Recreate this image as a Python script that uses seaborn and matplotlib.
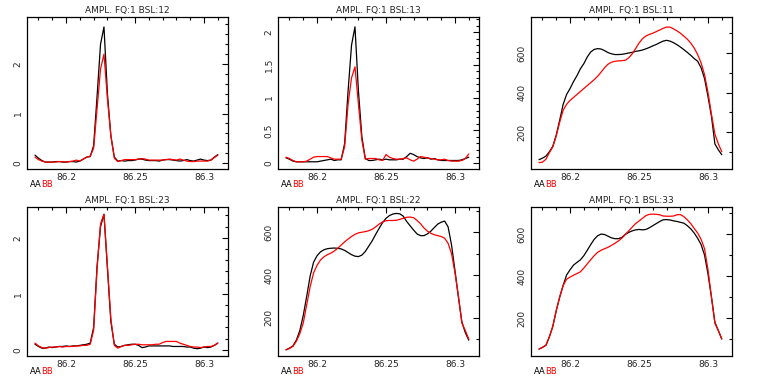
import numpy as np
import pandas as pd
import seaborn as sns
import matplotlib.pyplot as plt
from matplotlib.ticker import MultipleLocator, FuncFormatter

# frequency channels (GHz)
freq = np.round(86.1775 + 0.0025 * np.arange(54), 4)

titles = ["AMPL. FQ:1 BSL:12", "AMPL. FQ:1 BSL:13", "AMPL. FQ:1 BSL:11",
          "AMPL. FQ:1 BSL:23", "AMPL. FQ:1 BSL:22", "AMPL. FQ:1 BSL:33"]

# AA = black, BB = red
aa_12 = [0.16, 0.10, 0.05, 0.02, 0.02, 0.02, 0.03, 0.03, 0.02, 0.02, 0.03, 0.03, 0.02, 0.04,
         0.08, 0.12, 0.13, 0.35, 1.35, 2.4, 2.75, 1.4, 0.55, 0.12, 0.04, 0.05, 0.04, 0.05,
         0.05, 0.06, 0.08, 0.08, 0.06, 0.05, 0.05, 0.05, 0.04, 0.06, 0.07, 0.07, 0.06, 0.05,
         0.04, 0.05, 0.07, 0.05, 0.04, 0.06, 0.08, 0.06, 0.05, 0.06, 0.12, 0.17]
bb_12 = [0.12, 0.07, 0.04, 0.02, 0.02, 0.02, 0.02, 0.03, 0.03, 0.02, 0.03, 0.04, 0.06, 0.04,
         0.08, 0.12, 0.14, 0.30, 1.1, 1.9, 2.2, 1.3, 0.55, 0.10, 0.03, 0.05, 0.07, 0.07,
         0.07, 0.07, 0.08, 0.09, 0.08, 0.06, 0.06, 0.06, 0.06, 0.06, 0.07, 0.08, 0.07, 0.06,
         0.08, 0.06, 0.04, 0.03, 0.03, 0.04, 0.04, 0.04, 0.04, 0.06, 0.11, 0.16]

aa_13 = [0.08, 0.06, 0.03, 0.02, 0.02, 0.02, 0.02, 0.02, 0.02, 0.02, 0.03, 0.04, 0.05, 0.06,
         0.04, 0.05, 0.05, 0.30, 1.1, 1.8, 2.08, 1.1, 0.40, 0.07, 0.04, 0.04, 0.05, 0.06,
         0.05, 0.06, 0.05, 0.05, 0.05, 0.06, 0.06, 0.10, 0.15, 0.13, 0.10, 0.08, 0.07, 0.08,
         0.06, 0.07, 0.05, 0.04, 0.04, 0.04, 0.04, 0.04, 0.04, 0.05, 0.07, 0.09]
bb_13 = [0.09, 0.07, 0.04, 0.02, 0.02, 0.02, 0.03, 0.06, 0.09, 0.10, 0.10, 0.10, 0.10, 0.08,
         0.06, 0.06, 0.06, 0.25, 0.9, 1.3, 1.47, 0.9, 0.35, 0.06, 0.07, 0.07, 0.07, 0.05,
         0.04, 0.13, 0.09, 0.07, 0.06, 0.06, 0.07, 0.08, 0.05, 0.03, 0.06, 0.10, 0.09, 0.08,
         0.07, 0.06, 0.05, 0.05, 0.06, 0.04, 0.03, 0.03, 0.03, 0.04, 0.07, 0.14]

aa_11 = [60, 68, 78, 100, 128, 185, 260, 340, 390, 420, 455, 485, 520, 546, 580, 605, 618, 622,
         620, 612, 602, 596, 592, 592, 593, 596, 600, 603, 608, 611, 615, 621, 628, 636, 643,
         652, 660, 664, 660, 652, 642, 630, 617, 603, 588, 572, 558, 525, 470, 380, 280, 140,
         110, 85]
bb_11 = [45, 48, 62, 95, 125, 180, 250, 310, 340, 360, 375, 390, 405, 420, 435, 450, 465, 482,
         503, 525, 543, 553, 558, 560, 561, 563, 575, 595, 622, 650, 672, 686, 694, 700, 708,
         716, 725, 731, 731, 722, 712, 700, 685, 670, 650, 625, 592, 550, 490, 400, 290, 190,
         140, 100]

aa_23 = [0.10, 0.06, 0.03, 0.03, 0.05, 0.04, 0.05, 0.06, 0.06, 0.07, 0.06, 0.07, 0.07, 0.08,
         0.09, 0.10, 0.12, 0.40, 1.5, 2.2, 2.42, 1.45, 0.50, 0.10, 0.05, 0.06, 0.08, 0.09,
         0.10, 0.10, 0.08, 0.04, 0.05, 0.07, 0.07, 0.07, 0.07, 0.07, 0.07, 0.07, 0.06, 0.06,
         0.06, 0.06, 0.05, 0.05, 0.03, 0.02, 0.03, 0.05, 0.04, 0.05, 0.08, 0.12]
bb_23 = [0.12, 0.07, 0.04, 0.03, 0.04, 0.05, 0.05, 0.06, 0.05, 0.06, 0.06, 0.06, 0.07, 0.07,
         0.08, 0.08, 0.10, 0.35, 1.45, 2.25, 2.42, 1.5, 0.55, 0.08, 0.03, 0.06, 0.08, 0.08,
         0.09, 0.10, 0.10, 0.09, 0.09, 0.09, 0.09, 0.10, 0.10, 0.13, 0.15, 0.15, 0.15, 0.15,
         0.12, 0.10, 0.08, 0.06, 0.05, 0.05, 0.04, 0.05, 0.06, 0.06, 0.08, 0.12]

aa_22 = [50, 58, 68, 95, 140, 210, 300, 395, 460, 490, 508, 518, 523, 525, 526, 525, 522, 515,
         505, 495, 488, 486, 493, 510, 535, 560, 590, 618, 645, 665, 678, 685, 688, 686, 675,
         650, 630, 610, 592, 584, 584, 592, 605, 622, 638, 647, 652, 625, 540, 420, 295, 180,
         130, 95]
bb_22 = [50, 56, 66, 90, 125, 175, 260, 345, 410, 445, 470, 485, 495, 502, 512, 525, 540, 555,
         568, 580, 590, 597, 600, 603, 607, 614, 625, 638, 648, 654, 655, 655, 656, 660, 665,
         670, 671, 668, 655, 640, 620, 605, 595, 588, 584, 580, 572, 548, 500, 410, 300, 175,
         140, 100]

aa_33 = [52, 60, 70, 110, 160, 235, 300, 355, 405, 430, 452, 465, 477, 497, 523, 550, 575, 592,
         600, 598, 590, 582, 578, 578, 584, 598, 608, 615, 620, 622, 620, 622, 630, 640, 650,
         660, 668, 669, 667, 663, 660, 656, 652, 640, 625, 605, 580, 550, 500, 410, 300, 180,
         140, 100]
bb_33 = [52, 60, 70, 110, 160, 235, 300, 355, 385, 395, 404, 412, 420, 438, 458, 478, 497, 513,
         523, 530, 537, 546, 556, 567, 580, 598, 615, 633, 650, 662, 675, 688, 694, 695, 694,
         692, 686, 685, 685, 686, 692, 693, 683, 668, 650, 627, 605, 575, 530, 430, 300, 175,
         140, 100]

series = [(aa_12, bb_12), (aa_13, bb_13), (aa_11, bb_11),
          (aa_23, bb_23), (aa_22, bb_22), (aa_33, bb_33)]
ylims = [(-0.12, 2.95), (-0.09, 2.23), (13, 782), (-0.11, 2.55), (21, 718), (19, 729)]
yticks = [(1, 0.2), (0.5, 0.1), (200, 100), (1, 0.2), (200, 100), (200, 100)]

sns.set_style("white")
plt.rcParams["font.family"] = ["DejaVu Sans"]

fig = plt.figure(figsize=(7.58, 3.79), dpi=100)
lefts = [27 / 758, 278 / 758, 531 / 758]
rows = [(1 - 169 / 379, 152 / 379), (1 - 356 / 379, 149 / 379)]

fmt = FuncFormatter(lambda v, p: "%g" % round(v, 4))

for k, (aa, bb) in enumerate(series):
    r, c = divmod(k, 3)
    ax = fig.add_axes([lefts[c], rows[r][0], 201 / 758, rows[r][1]])
    df = pd.DataFrame({"freq": np.concatenate([freq, freq]),
                       "amp": np.concatenate([aa, bb]),
                       "ant": ["AA"] * len(freq) + ["BB"] * len(freq)})
    sns.lineplot(data=df, x="freq", y="amp", hue="ant",
                 palette={"AA": "black", "BB": "red"}, linewidth=0.9,
                 legend=False, ax=ax, estimator=None, sort=False)
    ax.set_xlim(86.1717, 86.3174)
    ax.set_ylim(*ylims[k])
    ax.set_xlabel("")
    ax.set_ylabel("")
    ax.set_title(titles[k], fontsize=6.5, pad=3)
    ax.xaxis.set_major_locator(MultipleLocator(0.05))
    ax.xaxis.set_minor_locator(MultipleLocator(0.01))
    ax.yaxis.set_major_locator(MultipleLocator(yticks[k][0]))
    ax.yaxis.set_minor_locator(MultipleLocator(yticks[k][1]))
    ax.xaxis.set_major_formatter(fmt)
    ax.yaxis.set_major_formatter(fmt)
    ax.tick_params(which="both", direction="in", top=True, right=True,
                   labelsize=6.5, width=0.8, color="black")
    ax.tick_params(which="major", length=4, pad=3)
    ax.tick_params(which="minor", length=2.5)
    ax.tick_params(axis="y", labelrotation=90)
    for lbl in ax.get_yticklabels():
        lbl.set_va("center")
    for sp in ax.spines.values():
        sp.set_color("black")
        sp.set_linewidth(0.9)
    t = ax.annotate("AA", xy=(0, 0), xycoords="axes fraction",
                    xytext=(2, -11.5), textcoords="offset points",
                    fontsize=6, color="black", va="center", ha="left")
    ax.annotate("BB", xy=(1, 0.5), xycoords=t, fontsize=6, color="red",
                va="center", ha="left")

fig.savefig("out.png", dpi=100)
